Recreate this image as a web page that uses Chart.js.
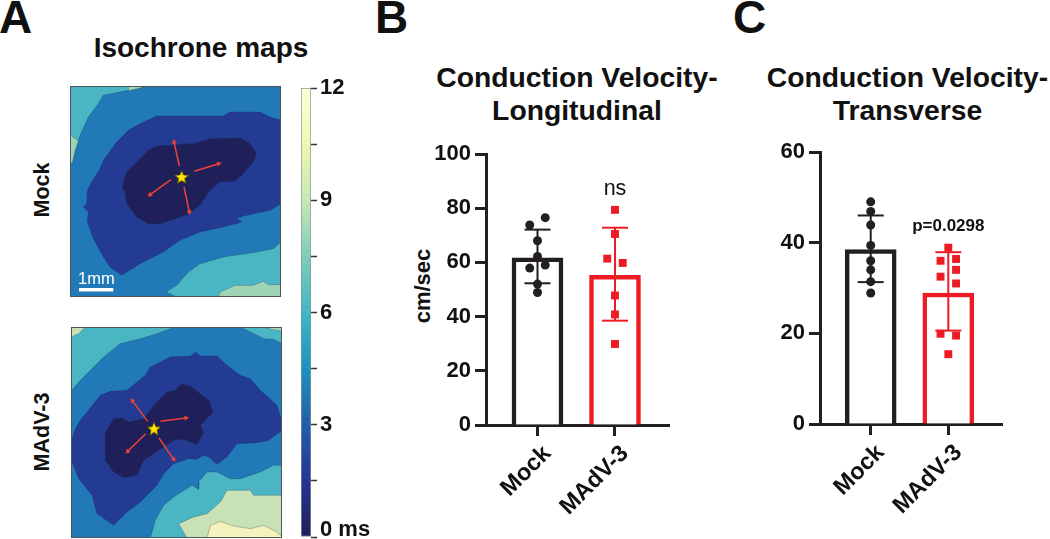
<!DOCTYPE html>
<html><head><meta charset="utf-8">
<style>
html,body{margin:0;padding:0;background:#fff;width:1050px;height:539px;overflow:hidden}
body{position:relative;font-family:"Liberation Sans",Arial,sans-serif;color:#111}
canvas{position:absolute;display:block}
.t{position:absolute;white-space:nowrap;font-weight:bold}
.r{transform:translate(-50%,-50%) rotate(-90deg)}
.frame{position:absolute;box-sizing:border-box;border:1.5px solid #50545a;pointer-events:none}
</style>
<script src="https://cdn.jsdelivr.net/npm/chart.js@4"></script>
</head><body>
<div class="t" style="left:-1px;top:-9px;font-size:46px;line-height:52px">A</div>
<div class="t" style="left:375px;top:-9px;font-size:46px;line-height:52px">B</div>
<div class="t" style="left:733px;top:-9px;font-size:46px;line-height:52px">C</div>
<div class="t" style="left:201px;top:30px;font-size:28px;line-height:36px;transform:translateX(-50%)">Isochrone maps</div>
<div class="t" style="left:577px;top:61px;font-size:28.3px;line-height:33px;text-align:center;transform:translateX(-50%)">Conduction Velocity-<br>Longitudinal</div>
<div class="t" style="left:907.5px;top:61px;font-size:28.3px;line-height:33px;text-align:center;transform:translateX(-50%)">Conduction Velocity-<br>Transverse</div>
<div class="t r" style="left:41.5px;top:190px;font-size:21.5px">Mock</div>
<div class="t r" style="left:41.5px;top:432px;font-size:21.5px">MAdV-3</div>
<div class="t r" style="left:422.5px;top:286px;font-size:22px">cm/sec</div>

<canvas id="map1" width="211" height="211" style="left:70px;top:86px"></canvas>
<div class="frame" style="left:70px;top:86px;width:211px;height:211px"></div>
<canvas id="map2" width="211" height="211" style="left:70.5px;top:327px"></canvas>
<div class="frame" style="left:70.5px;top:327px;width:211px;height:211px"></div>
<div style="position:absolute;left:78px;top:268px;color:#fff;font-size:16.5px;line-height:20px">1mm</div>
<canvas id="cbar" width="120" height="489" style="left:295px;top:70px"></canvas>
<canvas id="chartB" width="300" height="405" style="left:400px;top:134px"></canvas>
<canvas id="chartC" width="290" height="407" style="left:760px;top:132px"></canvas>

<script>
// ---------- Panels B and C: data ----------
const categories = ['Mock', 'MAdV-3'];
const barPositions = [1, 2];

const longMeans = [61.7, 55.2];
const longErrLow = [52.3, 38.5];
const longErrHigh = [72.1, 72.8];
const longMockX = [0.9, 1.1, 1, 1, 0.9, 1.1, 1, 1];
const longMockY = [73.8, 76.5, 68, 62.2, 57.9, 59, 52, 48.9];
const longMadvX = [2, 2, 1.9, 2.1, 2, 2, 2];
const longMadvY = [79.4, 70.5, 61.4, 59.8, 47.8, 40.8, 29.9];
const longTicks = [0, 20, 40, 60, 80, 100];

const transMeans = [38.5, 28.9];
const transErrLow = [31.3, 20.6];
const transErrHigh = [46, 37.9];
const transMockX = [1, 1, 1, 1, 1, 1, 1, 1];
const transMockY = [49, 46.9, 43.9, 39.4, 36, 34, 31.4, 28.9];
const transMadvX = [2, 1.9, 2.1, 2.1, 1.9, 2.1, 1.9, 2.1, 2];
const transMadvY = [38.9, 36, 36.4, 34, 32.5, 31, 19.9, 19.5, 15.4];
const transTicks = [0, 20, 40, 60];

// ---------- Panel A: isochrone contours, in map grid units ----------
const c0 = '#1f2059', c1 = '#233b92', c2 = '#2279b8', c3 = '#4bb6c3', c4 = '#9fd4b5', c5 = '#c8e2b6', c6 = '#f5f1bd';

const map1Teal1 = [[30,32],[262,32],[205,45],[130,60],[115,85],[85,125],[60,180],[38,262],[30,262]];
const map1Light1 = [[30,178],[55,197],[45,225],[37,262],[30,262]];
const map1Light2 = [[205,32],[262,32],[232,40],[206,46]];
const map1Teal2 = [[663,500],[640,520],[590,530],[490,545],[420,565],[385,590],[350,630],[318,650],[350,665],[663,665]];
const map1Light3 = [[475,665],[480,650],[525,630],[580,630],[610,618],[625,628],[663,628],[663,665]];
const map1Band = [[663,135],[630,125],[600,110],[510,110],[490,122],[290,122],[240,145],[205,165],[170,200],[130,255],[120,280],[95,320],[82,345],[80,385],[70,395],[85,410],[82,440],[100,490],[130,545],[150,575],[185,600],[240,565],[310,530],[360,495],[420,470],[490,455],[545,440],[530,428],[560,420],[630,405],[663,385]];
const map1Core = [[290,212],[340,210],[380,205],[400,205],[450,190],[540,188],[570,205],[590,235],[580,260],[545,300],[525,317],[480,320],[450,345],[420,390],[380,418],[330,435],[300,445],[265,445],[230,425],[200,385],[195,350],[187,335],[200,290],[230,260],[265,225]];
const map1Star = [365, 305];
const map1Arrows = [[[358,272],[342,200]],[[403,288],[476,265]],[[333,313],[270,358]],[[372,335],[388,410]]];
const scaleBar = [[57,643],[160,643]];

const map2TealA = [[32,35],[345,35],[290,55],[240,70],[180,85],[130,125],[60,195],[32,228]];
const map2LightA = [[32,35],[75,35],[55,55],[32,65]];
const map2TealB = [[540,35],[665,35],[665,85],[640,72],[610,70],[590,60]];
const map2LightB = [[610,35],[665,35],[665,48],[640,44]];
const map2TealC = [[665,450],[640,450],[600,470],[540,490],[510,490],[470,470],[440,470],[415,500],[415,522],[395,510],[340,545],[310,570],[285,615],[270,668],[665,668]];
const map2Light = [[665,540],[580,540],[570,525],[500,525],[480,560],[440,595],[400,605],[355,625],[380,668],[665,668]];
const map2Cream = [[440,668],[450,630],[480,618],[520,632],[570,640],[610,630],[650,650],[665,665],[665,668]];
const map2Band = [[405,110],[420,122],[470,122],[500,150],[540,180],[570,190],[600,225],[650,270],[665,320],[665,345],[625,375],[590,382],[530,385],[500,425],[470,447],[445,425],[430,420],[410,432],[385,430],[340,445],[310,475],[290,510],[240,560],[200,590],[160,630],[110,595],[95,540],[55,490],[35,440],[32,380],[45,340],[60,315],[120,240],[150,228],[200,225],[255,180],[270,155],[330,125],[390,122]];
const map2Core = [[365,205],[395,215],[425,240],[445,255],[458,290],[430,320],[420,330],[430,350],[410,388],[370,372],[340,375],[310,395],[250,435],[230,480],[190,487],[160,470],[135,435],[135,350],[160,310],[185,308],[205,320],[250,310],[285,265],[320,230],[345,225]];
const map2Star = [281, 340];
const map2Arrows = [[[262,318],[216,256]],[[300,318],[377,308]],[[256,355],[202,408]],[[296,368],[340,432]]];

const cbarTicks = [12, 10.5, 9, 7.5, 6, 4.5, 3, 1.5, 0];
const cbarLabels = ['12', '', '9', '', '6', '', '3', '', '0 ms'];
const cbarStops = ['#1f2059', '#253494', '#225ea8', '#1d91c0', '#41b6c4', '#7fcdbb', '#c7e9b4', '#edf8b1', '#ffffd9'];

// ---------- Shared ----------
const INK = '#231f20', RED = '#ed1c24';
const FONT = '"Liberation Sans", Arial, sans-serif';
Chart.defaults.font.family = FONT;
Chart.defaults.animation = false;
const toXY = p => p.map(q => ({x: q[0], y: q[1]}));

const starImg = document.createElement('canvas');
starImg.width = starImg.height = 18;
(function () {
  const g = starImg.getContext('2d');
  g.beginPath();
  for (let i = 0; i < 10; i++) {
    const r = i % 2 ? 3.2 : 7.6, a = -Math.PI / 2 + i * Math.PI / 5;
    g[i ? 'lineTo' : 'moveTo'](9 + r * Math.cos(a), 9.5 + r * Math.sin(a));
  }
  g.closePath();
  g.fillStyle = '#ffe500'; g.fill();
  g.lineWidth = 0.8; g.strokeStyle = '#3a3210'; g.stroke();
})();

function poly(points, color) {
  return {type: 'line', data: toXY(points.concat([points[0]])), fill: 'shape', backgroundColor: color,
          borderColor: 'rgba(25,45,70,0.4)', borderWidth: 0.7, pointRadius: 0, tension: 0};
}
function arrow(seg) {
  const dx = seg[1][0] - seg[0][0], dy = seg[1][1] - seg[0][1];
  const deg = Math.atan2(dx, -dy) * 180 / Math.PI;
  return {type: 'line', data: toXY(seg), borderColor: '#ef4136', borderWidth: 1.5, fill: false, tension: 0,
          pointStyle: 'triangle', pointRadius: [0, 3], pointRotation: [0, deg],
          pointBackgroundColor: '#ef4136', pointBorderColor: '#ef4136', pointBorderWidth: 0};
}
function mapChart(id, xr, yr, layers, arrows, star, extra) {
  const datasets = [
    {type: 'line', data: [{x: star[0], y: star[1]}], pointStyle: starImg, pointRadius: 9, showLine: false},
    ...(extra || []),
    ...arrows.map(arrow),
    ...layers.map(l => poly(l[0], l[1]))
  ];
  new Chart(document.getElementById(id), {
    type: 'line', data: {datasets},
    options: {responsive: false, layout: {padding: 0, autoPadding: false},
      plugins: {legend: {display: false}, tooltip: {enabled: false}},
      scales: {x: {type: 'linear', display: false, min: xr[0], max: xr[1]},
               y: {type: 'linear', display: false, min: yr[0], max: yr[1], reverse: true}}},
    plugins: [{id: 'bg', beforeDraw(ch) {
      const a = ch.chartArea; ch.ctx.fillStyle = c2; ch.ctx.fillRect(a.left, a.top, a.width, a.height);
    }}]
  });
}
mapChart('map1', [30, 663], [32, 665],
  [[map1Core, c0], [map1Band, c1], [map1Light1, c4], [map1Light2, c4], [map1Teal1, c3], [map1Light3, c4], [map1Teal2, c3]],
  map1Arrows, map1Star,
  [{type: 'line', data: toXY(scaleBar), borderColor: '#fff', borderWidth: 3.5, pointRadius: 0, fill: false, borderCapStyle: 'butt'}]);
mapChart('map2', [32, 665], [35, 668],
  [[map2Core, c0], [map2Band, c1], [map2LightA, c5], [map2TealA, c3], [map2LightB, c4], [map2TealB, c3], [map2Cream, c6], [map2Light, c5], [map2TealC, c3]],
  map2Arrows, map2Star);

// ---------- Colour bar ----------
new Chart(document.getElementById('cbar'), {
  type: 'bar',
  data: {labels: ['ms'], datasets: [{
    data: [[0, 12]], barPercentage: 1, categoryPercentage: 1, borderWidth: 1, borderColor: '#8f9296', borderSkipped: false,
    backgroundColor(ctx) {
      const a = ctx.chart.chartArea;
      if (!a) return cbarStops[0];
      const g = ctx.chart.ctx.createLinearGradient(0, a.bottom, 0, a.top);
      cbarStops.forEach((c, i) => g.addColorStop(i / (cbarStops.length - 1), c));
      return g;
    }}]},
  options: {responsive: false, layout: {padding: {left: 6, top: 18, bottom: 22, right: 0}, autoPadding: false},
    plugins: {legend: {display: false}, tooltip: {enabled: false}},
    scales: {
      x: {display: false},
      y: {position: 'right', min: 0, max: 12,
        afterFit(s) { s.width = 104; },
        afterBuildTicks(s) { s.ticks = cbarTicks.map(v => ({value: v})); },
        border: {display: false},
        grid: {drawOnChartArea: false, tickLength: 6, tickWidth: 1.5, tickColor: '#333'},
        ticks: {autoSkip: false, color: '#111', padding: 3,
          font: c => ({size: 22, weight: 'bold', lineHeight: c.index === cbarTicks.length - 1 ? 0.64 : 1.2}),
          callback(v, i) { return i === cbarTicks.length - 1 ? [cbarLabels[i], ''] : cbarLabels[i]; }}
      }
    }}
});

// ---------- Bar panels ----------
function barChart(id, cfg) {
  const errSet = (i) => ({
    type: 'scatter', showLine: true, order: 2,
    data: [{x: barPositions[i], y: cfg.low[i]}, {x: barPositions[i], y: cfg.high[i]}],
    borderColor: i ? RED : INK, borderWidth: 2,
    pointStyle: 'line', pointRadius: 13, pointBorderWidth: 2, pointBorderColor: i ? RED : INK
  });
  const ptSet = (xs, ys, i) => ({
    type: 'scatter', order: 1, data: xs.map((x, k) => ({x, y: ys[k]})),
    pointStyle: i ? 'rect' : 'circle', pointRadius: i ? 5.6 : 4.5, pointBorderWidth: 0,
    pointBackgroundColor: i ? RED : INK
  });
  new Chart(document.getElementById(id), {
    type: 'bar',
    data: {datasets: [
      {type: 'bar', order: 3, data: barPositions.map((x, i) => ({x, y: cfg.means[i]})),
       backgroundColor: '#fff', borderColor: [INK, RED], borderWidth: 4.5, barThickness: 51, borderSkipped: 'bottom'},
      errSet(0), errSet(1),
      ptSet(cfg.mx, cfg.my, 0), ptSet(cfg.rx, cfg.ry, 1)
    ]},
    options: {responsive: false, layout: {padding: cfg.pad, autoPadding: false},
      plugins: {legend: {display: false}, tooltip: {enabled: false}},
      scales: {
        x: {type: 'linear', min: cfg.xr[0], max: cfg.xr[1], offset: false,
          afterFit(s) { s.height = cfg.xh; },
          afterBuildTicks(s) { s.ticks = barPositions.map(v => ({value: v})); },
          border: {color: INK, width: 3},
          grid: {offset: false, drawOnChartArea: false, tickLength: 11, tickWidth: 3, tickColor: INK},
          ticks: {autoSkip: false, minRotation: 45, maxRotation: 45, padding: 4, labelOffset: 10, color: '#111',
            font: {size: 23.5, weight: 'bold'}, callback(v) { return categories[barPositions.indexOf(v)]; }}},
        y: {min: cfg.ticks[0], max: cfg.ticks[cfg.ticks.length - 1],
          afterFit(s) { s.width = cfg.yw; },
          afterBuildTicks(s) { s.ticks = cfg.ticks.map(v => ({value: v})); },
          border: {color: INK, width: 3},
          grid: {drawOnChartArea: false, tickLength: 11, tickWidth: 3, tickColor: INK},
          ticks: {padding: 4, color: '#111', font: {size: 22, weight: 'bold'}}}
      }},
    plugins: [{id: 'note', afterDatasetsDraw(ch) {
      const c = ch.ctx; c.save();
      c.font = cfg.noteFont; c.fillStyle = '#111'; c.textAlign = 'center'; c.textBaseline = 'middle';
      c.fillText(cfg.note, ch.scales.x.getPixelForValue(barPositions[1]), ch.scales.y.getPixelForValue(cfg.noteY));
      c.restore();
    }}]
  });
}
barChart('chartB', {means: longMeans, low: longErrLow, high: longErrHigh, mx: longMockX, my: longMockY, rx: longMadvX, ry: longMadvY,
  ticks: longTicks, xr: [0.3355, 2.697], xh: 114, yw: 86, pad: {top: 20, right: 31, left: 0, bottom: 0},
  note: 'ns', noteY: 87, noteFont: '21.5px ' + FONT});
barChart('chartC', {means: transMeans, low: transErrLow, high: transErrHigh, mx: transMockX, my: transMockY, rx: transMadvX, ry: transMadvY,
  ticks: transTicks, xr: [0.3466, 2.692], xh: 115, yw: 60, pad: {top: 20, right: 48, left: 0, bottom: 0},
  note: 'p=0.0298', noteY: 43.5, noteFont: 'bold 17px ' + FONT});
</script>
</body></html>
